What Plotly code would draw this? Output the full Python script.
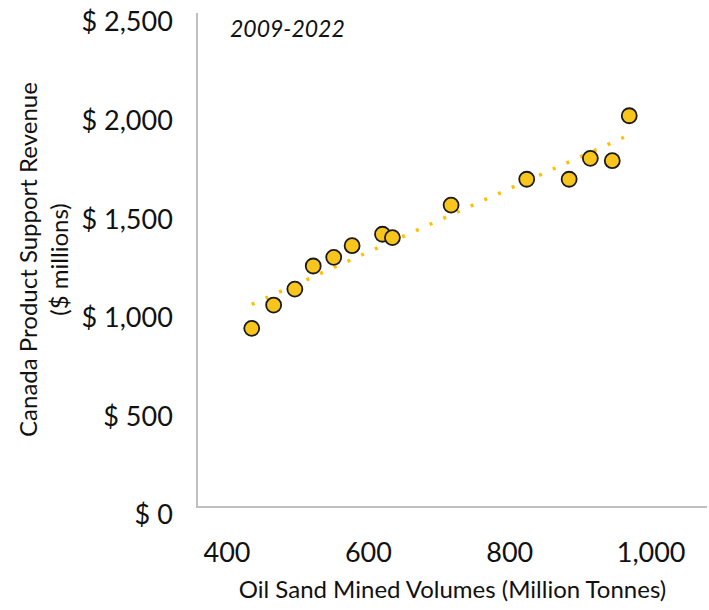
import numpy as np
import plotly.graph_objects as go

# 2009-2022 annual observations
oil_sand_volumes = [435, 466, 496, 522, 551, 577, 620, 634, 717, 824, 884, 914, 945, 969]
support_revenue = [901, 1019, 1100, 1217, 1261, 1320, 1378, 1361, 1526, 1657, 1657, 1763, 1751, 1979]

x_ticks = [400, 600, 800, 1000]
y_ticks = [0, 500, 1000, 1500, 2000, 2500]
x_labels = [f"{v:,}" for v in x_ticks]
y_labels = [f"$ {v:,}" for v in y_ticks]

FONT = "Lato, 'Open Sans', sans-serif"
GOLD = "#FFC000"

# linear trendline, like Excel's
slope, intercept = np.polyfit(oil_sand_volumes, support_revenue, 1)
trend_x = [min(oil_sand_volumes), max(oil_sand_volumes)]
trend_y = [slope * v + intercept for v in trend_x]

fig = go.Figure()

fig.add_trace(go.Scatter(
    x=trend_x, y=trend_y,
    mode="lines",
    line={"color": GOLD, "width": 3.5, "dash": "3px,12px"},
    hoverinfo="skip",
))

fig.add_trace(go.Scatter(
    x=oil_sand_volumes, y=support_revenue,
    mode="markers",
    marker={"size": 15, "color": "#F8C51C", "line": {"color": "#1a1a1a", "width": 1.8}},
))

fig.add_annotation(
    text="<i>2009-2022</i>",
    xref="paper", yref="paper",
    x=0.059, y=0.97, xanchor="left", yanchor="middle",
    showarrow=False,
    font={"size": 23, "color": "#111111", "family": FONT},
)

fig.update_layout(
    width=709, height=610,
    showlegend=False,
    plot_bgcolor="white",
    paper_bgcolor="white",
    margin={"l": 198, "r": 2, "t": 13, "b": 104},
    font={"family": FONT, "color": "#111111"},
    xaxis={
        "range": [359, 1079],
        "tickvals": x_ticks,
        "ticktext": x_labels,
        "automargin": False,
        "showgrid": False,
        "zeroline": False,
        "showline": True,
        "linecolor": "#BFBFBF",
        "linewidth": 1.5,
        "ticks": "",
        "ticklabelstandoff": 22,
        "tickfont": {"size": 27},
        "title": {"text": "Oil Sand Mined Volumes (Million Tonnes)",
                  "font": {"size": 24}, "standoff": 14},
    },
    yaxis={
        "range": [0, 2500],
        "tickvals": y_ticks,
        "ticktext": y_labels,
        "automargin": False,
        "ticklabeloverflow": "allow",
        "ticklabelshift": 9,
        "showgrid": False,
        "zeroline": False,
        "showline": True,
        "linecolor": "#BFBFBF",
        "linewidth": 1.5,
        "ticks": "",
        "ticklabelstandoff": 18,
        "tickfont": {"size": 27},
        "title": {"text": "Canada Product Support Revenue<br>($ millions)",
                  "font": {"size": 24}, "standoff": 6},
    },
)

fig.write_html("out.html", config={"displayModeBar": False},
               post_script="document.body.style.margin = '0';")
